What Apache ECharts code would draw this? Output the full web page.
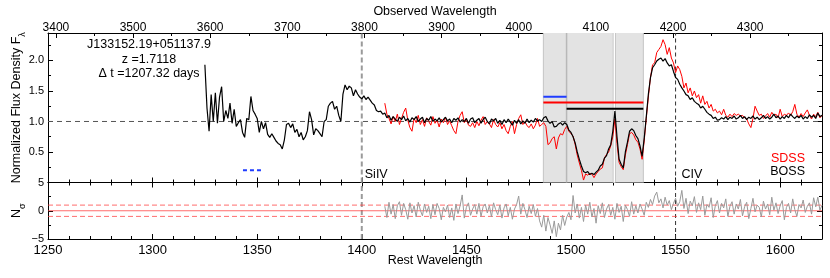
<!DOCTYPE html>
<html><head><meta charset="utf-8">
<script src="https://cdn.jsdelivr.net/npm/echarts@6/dist/echarts.min.js"></script>
<style>html,body{margin:0;padding:0;background:#fff}#c{width:830px;height:278px}</style>
</head><body><div id="c"></div>
<script>
// ---------------- data ----------------
const Z = 1.7118;
const REST_MIN = 1250, REST_MAX = 1620;
const FLUX_MAX = 2.45;
const OBS_TICKS = [3400, 3500, 3600, 3700, 3800, 3900, 4000, 4100, 4200, 4300];
const REST_TICKS = [1250, 1300, 1350, 1400, 1450, 1500, 1550, 1600];
const FLUX_TICKS = [0.5, 1.0, 1.5, 2.0];
const NSIG_TICKS = [-5, 0, 5];

const BOSS_START = 1325;
const BOSS_FLUX = [
 1.93,1.22,0.84,1.44,1.00,1.47,0.97,1.40,1.57,1.00,
 1.18,1.05,1.30,0.97,1.20,0.92,0.98,1.03,0.82,0.74,
 1.05,1.03,1.41,1.18,1.12,1.05,0.82,1.00,0.88,0.98,
 0.79,0.74,0.80,0.74,0.68,0.64,0.62,0.55,0.70,0.95,
 0.97,0.90,0.96,0.82,0.87,0.75,0.82,0.70,0.75,0.85,
 1.16,1.03,0.78,0.88,0.85,0.80,0.75,1.00,1.03,1.25,
 1.30,1.33,1.20,1.25,1.10,1.00,1.45,1.60,1.52,1.58,
 1.55,1.42,1.52,1.45,1.40,1.37,1.42,1.36,1.40,1.35,
 1.30,1.27,1.18,1.16,1.17,1.12,1.14,1.06,1.10,1.02,
 1.08,1.04,1.00,1.07,1.03,1.09,1.01,1.05,0.99,1.06,
 1.03,1.08,1.00,1.04,1.07,0.98,1.05,1.02,1.08,1.00,
 1.04,1.01,1.06,0.99,1.03,1.07,1.01,1.04,0.98,1.05,
 1.02,1.06,0.99,1.03,1.00,1.05,0.97,1.04,1.06,0.98,
 1.02,1.05,0.97,1.03,1.07,1.00,0.96,1.04,1.01,1.05,
 0.97,1.02,0.95,1.03,0.98,1.04,0.99,0.94,1.02,0.97,
 1.03,0.96,1.01,0.97,1.04,0.98,1.02,0.99,1.05,1.01,
 1.03,1.00,1.06,1.08,1.01,0.97,1.00,0.91,0.92,0.96,
 0.98,0.94,0.98,0.95,0.86,0.82,0.75,0.65,0.50,0.38,
 0.27,0.18,0.16,0.18,0.13,0.15,0.13,0.17,0.20,0.27,
 0.30,0.40,0.44,0.55,0.62,0.84,1.17,0.75,0.38,0.30,
 0.24,0.50,0.66,0.84,0.88,0.85,0.77,0.72,0.60,0.43,
 0.72,1.08,1.45,1.72,1.88,1.93,1.99,2.02,2.04,1.99,
 2.03,1.96,1.91,1.93,1.82,1.72,1.69,1.61,1.55,1.50,
 1.44,1.42,1.36,1.39,1.33,1.30,1.28,1.22,1.25,1.20,
 1.15,1.12,1.10,1.05,1.07,1.02,1.03,1.06,1.04,1.08,
 1.03,1.07,1.05,1.09,1.04,1.06,1.10,1.05,1.08,1.03,
 1.07,1.05,1.09,1.04,1.07,1.03,1.06,1.10,1.05,1.08,
 1.04,1.07,1.12,1.06,1.09,1.04,1.08,1.05,1.10,1.06,
 1.12,1.08,1.05,1.09,1.06,1.10,1.04,1.08,1.05,1.11,
 1.07,1.10,1.05,1.14,1.08,1.10
];

const SDSS_START = 1411;
const SDSS_FLUX = [
 1.30,1.12,1.05,0.96,1.08,1.00,1.12,0.95,1.05,1.15,
 1.22,1.02,0.90,0.84,1.05,0.98,1.10,0.95,1.03,0.92,
 1.06,1.00,0.94,1.08,0.97,1.02,0.91,1.04,0.98,1.07,
 0.95,1.01,0.93,0.85,0.80,1.00,1.10,1.16,0.98,1.04,
 0.94,0.92,0.98,0.90,1.00,0.93,1.02,1.08,0.95,1.00,
 0.96,0.90,1.03,0.95,0.91,0.98,0.88,0.95,0.85,0.80,
 0.92,1.00,0.80,0.95,1.05,1.11,0.95,1.00,0.93,0.90,
 0.96,0.88,0.94,1.05,0.92,0.95,0.98,0.92,0.62,0.65,
 0.72,0.75,0.55,0.73,0.80,0.78,0.87,0.92,0.84,0.80,
 0.76,0.62,0.45,0.32,0.20,0.04,0.14,0.12,0.15,0.14,
 0.08,0.14,0.18,0.22,0.24,0.40,0.46,0.50,0.60,0.75,
 1.04,0.64,0.33,0.26,0.21,0.45,0.62,0.80,0.82,0.78,
 0.70,0.66,0.55,0.38,0.68,1.05,1.40,1.72,1.93,1.96,
 2.13,2.18,2.23,2.34,2.26,2.10,2.21,2.04,1.96,1.80,
 1.91,1.85,1.74,1.55,1.63,1.47,1.55,1.42,1.50,1.39,
 1.44,1.30,1.42,1.28,1.33,1.22,1.28,1.17,1.20,1.14,
 1.17,1.11,1.20,1.10,1.07,1.12,1.08,1.13,1.10,1.12,
 1.09,1.10,1.06,1.04,0.96,0.90,1.05,1.25,1.17,1.10,
 1.12,1.05,1.09,1.13,1.07,1.15,1.10,1.12,1.06,1.20,
 1.08,1.12,1.10,1.14,1.10,1.16,1.28,1.12,1.07,1.13,
 1.08,1.14,1.19,1.10,1.04,1.12,1.08,1.15,1.06,1.10
];

const RESID_START = 1411;
const RESID = [
 0.8,-1.2,1.5,-0.6,1.1,-1.4,0.9,1.6,-0.8,1.3,
 0.2,-1.5,1.4,-0.4,0.9,-1.1,1.5,0.1,-0.9,1.2,
 -0.3,0.8,-1.4,1.1,-0.7,1.3,0.4,-1.6,0.6,-0.2,
 1.0,-1.2,0.5,-1.7,1.2,-0.5,0.9,2.8,-1.3,0.6,
 1.4,-0.8,0.3,1.1,-0.6,1.3,-1.0,0.7,1.2,-0.4,
 0.9,-1.1,1.4,0.2,-0.7,1.0,-1.3,0.5,1.2,-0.9,
 0.6,-1.5,0.3,1.1,2.6,-0.6,1.3,0.2,-1.2,0.8,
 -0.5,1.1,-1.0,0.4,-1.8,-2.9,-0.8,-3.6,-1.2,-2.5,
 -4.0,-1.8,-4.6,-2.2,-3.4,-0.8,-2.6,-1.1,-0.3,-1.6,
 2.7,-0.4,1.2,-1.3,0.6,-1.9,1.0,-0.6,1.5,-1.1,
 0.4,-2.2,0.9,-0.5,1.4,-1.2,0.3,1.1,-0.8,0.6,
 -1.5,1.3,-0.3,0.8,-1.9,1.0,0.2,-1.0,1.6,-0.6,
 0.9,-0.4,1.2,0.3,-0.8,1.5,0.6,2.0,1.1,2.6,
 3.3,1.4,2.1,0.5,2.4,1.0,1.8,0.2,1.3,2.2,
 0.8,1.6,3.6,0.4,2.2,-0.5,1.7,0.9,2.5,-0.3,
 1.4,0.2,2.6,-0.8,1.1,0.6,2.3,-1.2,0.9,1.8,
 -0.4,1.3,0.5,2.1,-1.0,0.8,1.6,-0.6,1.2,0.3,
 2.0,-0.9,0.7,1.5,-1.4,0.4,2.2,-0.2,1.0,0.6,
 -1.1,1.7,0.3,1.2,-0.7,2.4,0.1,1.4,-0.5,0.9,
 1.8,-1.6,0.6,1.3,-0.4,2.1,0.2,-1.0,1.1,0.5,
 1.9,-0.3,0.8,1.4,-0.6,2.3,0.7,2.4,0.1,1.0
];

const LINE_WAVES = [1400, 1550];          // SiIV, CIV
const LINE_NAMES = ['SiIV', 'CIV'];
const SHADE_RANGE = [1486.8, 1534.6];
const SHADE_DIVS = [1497.9, 1520.7];
const BAR_X0 = [1486.8, 1486.8, 1497.9];
const BAR_X1 = [1497.9, 1534.6, 1534.6];
const BAR_Y  = [1.405, 1.31, 1.21];
const BAR_COLORS = ['#1f3cff', '#ff0000', '#000000'];
const BLUE_DASH_X = [1343.2, 1352.8];
const BLUE_DASH_Y = 0.2;
const NSIG_LEVELS = [0, 1, -1];

// ---------------- chart ----------------
const FONT = "'Liberation Sans', Arial, Helvetica, sans-serif";
const pts = (start, arr) => arr.map((v, i) => [start + i, v]);
const seg = (x0, y0, x1, y1) => [[x0, y0], [x1, y1]];
const AXL = { show: true, onZero: false, lineStyle: { color: '#000', width: 1 } };
const TICK = { show: true, inside: true, length: 5, lineStyle: { color: '#000', width: 1 } };
const MINOR = (n) => ({ show: true, splitNumber: n, length: 3, lineStyle: { color: '#000', width: 1 } });
const near = (v, list) => list.some(t => Math.abs(v - t) < 1e-6);

const chart = echarts.init(document.getElementById('c'), null, { renderer: 'canvas' });

function lineSeries(name, data, xi, yi, color, width, type, z) {
  return {
    name, type: 'line', data, xAxisIndex: xi, yAxisIndex: yi, showSymbol: false, symbol: 'none',
    silent: true, animation: false, z: z,
    lineStyle: { color, width, type: type || 'solid' }
  };
}

const series = [];
// shaded trough region
series.push({
  type: 'line', xAxisIndex: 0, yAxisIndex: 0, data: [], silent: true, symbol: 'none',
  markArea: { silent: true, itemStyle: { color: '#e3e3e3' }, data: [[{ xAxis: SHADE_RANGE[0] }, { xAxis: SHADE_RANGE[1] }]] }
});
SHADE_RANGE.forEach(x => series.push(lineSeries('edge', seg(x, 0, x, FLUX_MAX), 0, 0, '#c4c4c4', 1, 'solid', 1)));
series.push(lineSeries('div1', seg(SHADE_DIVS[0], 0, SHADE_DIVS[0], FLUX_MAX), 0, 0, '#b8b8b8', 1.5, 'solid', 1));
series.push(lineSeries('div2', seg(SHADE_DIVS[1], 0, SHADE_DIVS[1], FLUX_MAX), 0, 0, '#bdbdbd', 3, 'solid', 1));
series.push(lineSeries('div2w', seg(SHADE_DIVS[1], 0, SHADE_DIVS[1], FLUX_MAX), 0, 0, '#ffffff', 1.5, 'solid', 1));
// unity line
series.push(lineSeries('unity', seg(REST_MIN, 1, REST_MAX, 1), 0, 0, '#555', 1, [5, 4], 2));
// emission line markers (both panels)
series.push(lineSeries('siiv', seg(LINE_WAVES[0], 0, LINE_WAVES[0], FLUX_MAX), 0, 0, '#9a9a9a', 2, [5, 3], 2));
series.push(lineSeries('civ', seg(LINE_WAVES[1], 0, LINE_WAVES[1], FLUX_MAX), 0, 0, '#333', 1, [4, 3], 2));
series.push(lineSeries('siiv2', seg(LINE_WAVES[0], -5, LINE_WAVES[0], 5), 2, 2, '#9a9a9a', 2, [5, 3], 2));
series.push(lineSeries('civ2', seg(LINE_WAVES[1], -5, LINE_WAVES[1], 5), 2, 2, '#333', 1, [4, 3], 2));
// spectra
series.push(lineSeries('SDSS', pts(SDSS_START, SDSS_FLUX), 0, 0, '#ff0000', 1, 'solid', 3));
series.push(lineSeries('BOSS', pts(BOSS_START, BOSS_FLUX), 0, 0, '#000000', 1.2, 'solid', 4));
// trough velocity bars
BAR_Y.forEach((y, i) => series.push(lineSeries('bar' + i, seg(BAR_X0[i], y, BAR_X1[i], y), 0, 0, BAR_COLORS[i], 2, 'solid', 5)));
series.push(lineSeries('bluedash', seg(BLUE_DASH_X[0], BLUE_DASH_Y, BLUE_DASH_X[1], BLUE_DASH_Y), 0, 0, '#1f3cff', 2, [4, 3], 5));
// residual panel
NSIG_LEVELS.forEach((lv, i) => series.push(lineSeries('lv' + i, seg(REST_MIN, lv, REST_MAX, lv), 2, 2, 'rgba(255,60,60,0.75)', 1, i === 0 ? 'solid' : [5, 3], 2)));
series.push(lineSeries('resid', pts(RESID_START, RESID), 2, 2, '#9a9a9a', 1, 'solid', 3));

const txt = { color: '#000', fontFamily: FONT };
const SUBRICH = { m: { fontSize: 12.5, fontFamily: FONT, color: '#000' }, s: { fontSize: 9, fontFamily: FONT, color: '#000', padding: [12, 0, 0, 0] } };

const option = {
  animation: false,
  backgroundColor: '#fff',
  textStyle: { fontFamily: FONT },
  grid: [
    { left: 48, right: 8, top: 33, height: 149.5, containLabel: false },
    { left: 48, right: 8, top: 182.5, height: 56.5, containLabel: false }
  ],
  xAxis: [
    { type: 'value', gridIndex: 0, position: 'bottom', min: REST_MIN, max: REST_MAX, interval: 50,
      axisLine: AXL, axisTick: TICK, minorTick: MINOR(5), axisLabel: { show: false }, splitLine: { show: false } },
    { type: 'value', gridIndex: 0, position: 'top', min: REST_MIN * (1 + Z), max: REST_MAX * (1 + Z), splitNumber: 10,
      axisLine: AXL, axisTick: TICK, minorTick: MINOR(2), splitLine: { show: false },
      axisLabel: { show: true, margin: 5, verticalAlign: 'middle', fontSize: 12, ...txt, formatter: v => near(v, OBS_TICKS) ? String(Math.round(v)) : '' },
      name: 'Observed Wavelength', nameLocation: 'middle', nameGap: 21, nameMoveOverlap: false,
      nameTextStyle: { fontSize: 12.5, verticalAlign: 'middle', ...txt } },
    { type: 'value', gridIndex: 1, position: 'bottom', min: REST_MIN, max: REST_MAX, interval: 50,
      axisLine: AXL, axisTick: TICK, minorTick: MINOR(5), splitLine: { show: false },
      axisLabel: { show: true, margin: 11, verticalAlign: 'middle', fontSize: 13, ...txt, formatter: v => near(v, REST_TICKS) ? String(Math.round(v)) : '' },
      name: 'Rest Wavelength', nameLocation: 'middle', nameGap: 21.5, nameMoveOverlap: false,
      nameTextStyle: { fontSize: 12.5, verticalAlign: 'middle', ...txt } },
    { type: 'value', gridIndex: 1, position: 'top', min: REST_MIN, max: REST_MAX, interval: 50,
      axisLine: AXL, axisTick: TICK, minorTick: MINOR(5), axisLabel: { show: false }, splitLine: { show: false } }
  ],
  yAxis: [
    { type: 'value', gridIndex: 0, position: 'left', min: 0, max: FLUX_MAX, interval: 0.5,
      axisLine: AXL, axisTick: TICK, minorTick: MINOR(2), splitLine: { show: false },
      axisLabel: { show: true, margin: 4, fontSize: 11, ...txt, formatter: v => near(v, FLUX_TICKS) ? v.toFixed(1) : '' },
      name: '{m|Normalized Flux Density F}{s|λ}', nameLocation: 'middle', nameGap: 21, nameMoveOverlap: false,
      nameTextStyle: { ...txt, rich: SUBRICH } },
    { type: 'value', gridIndex: 0, position: 'right', min: 0, max: FLUX_MAX, interval: 0.5,
      axisLine: AXL, axisTick: TICK, minorTick: MINOR(2), axisLabel: { show: false }, splitLine: { show: false } },
    { type: 'value', gridIndex: 1, position: 'left', min: -5, max: 5, interval: 5,
      axisLine: AXL, axisTick: TICK, minorTick: MINOR(2), splitLine: { show: false },
      axisLabel: { show: true, margin: 4, fontSize: 11, ...txt, formatter: v => near(v, NSIG_TICKS) ? (v < 0 ? '\u2212' + (-v) : String(v)) : '' },
      name: '{m|N}{s|σ}', nameLocation: 'middle', nameGap: 21, nameMoveOverlap: false,
      nameTextStyle: { ...txt, rich: SUBRICH } },
    { type: 'value', gridIndex: 1, position: 'right', min: -5, max: 5, interval: 5,
      axisLine: AXL, axisTick: TICK, minorTick: MINOR(2), axisLabel: { show: false }, splitLine: { show: false } }
  ],
  series,
  graphic: [
    { type: 'text', x: 149, y: 45, silent: true, style: { text: 'J133152.19+051137.9', align: 'center', verticalAlign: 'middle', fontSize: 12.5, fontFamily: FONT, fill: '#000' } },
    { type: 'text', x: 149, y: 59.5, silent: true, style: { text: 'z =1.7118', align: 'center', verticalAlign: 'middle', fontSize: 12.5, fontFamily: FONT, fill: '#000' } },
    { type: 'text', x: 149, y: 74, silent: true, style: { text: 'Δ t =1207.32 days', align: 'center', verticalAlign: 'middle', fontSize: 12.5, fontFamily: FONT, fill: '#000' } },
    { type: 'text', x: 805, y: 158.5, silent: true, style: { text: 'SDSS', align: 'right', verticalAlign: 'middle', fontSize: 12.5, fontFamily: FONT, fill: '#ff0000' } },
    { type: 'text', x: 805, y: 172, silent: true, style: { text: 'BOSS', align: 'right', verticalAlign: 'middle', fontSize: 12.5, fontFamily: FONT, fill: '#000' } }
  ]
};
chart.setOption(option);

// line labels placed from the axis scale
const labelY = 174.5;
const extra = LINE_WAVES.map((w, i) => {
  const px = chart.convertToPixel({ xAxisIndex: 0 }, w);
  return { type: 'text', x: px + 3 + (i === 1 ? 3 : 0), y: labelY, silent: true,
    style: { text: LINE_NAMES[i], align: 'left', verticalAlign: 'middle', fontSize: 12.5, fontFamily: FONT, fill: '#000' } };
});
chart.setOption({ graphic: option.graphic.concat(extra) });
</script>
</body></html>
